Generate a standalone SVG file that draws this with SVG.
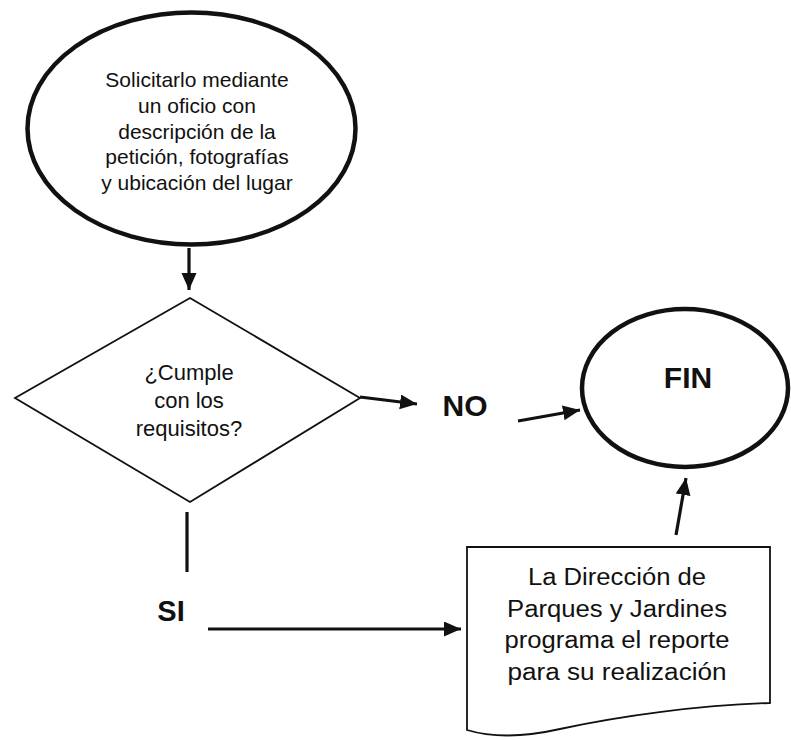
<svg xmlns="http://www.w3.org/2000/svg" width="791" height="740" viewBox="0 0 791 740">
<style>
  .txt { font-family: "Liberation Sans", Arial, sans-serif; fill: #111; text-anchor: middle; }
  .bold { font-weight: bold; }
  .thick { fill: #fff; stroke: #111; stroke-width: 4.5; }
  .thin { fill: #fff; stroke: #111; stroke-width: 1.8; }
  .conn { fill: none; stroke: #111; stroke-width: 3.2; }
</style>
<defs>
  <marker id="ah" markerUnits="userSpaceOnUse" markerWidth="18" markerHeight="16" refX="17" refY="7.5" orient="auto">
    <path d="M0,0 L17,7.5 L0,15 z" fill="#111"/>
  </marker>
</defs>
<rect width="791" height="740" fill="#fff"/>

<g id="inicio">
  <ellipse class="thick" cx="191.5" cy="128.5" rx="164" ry="116"/>
  <text class="txt" font-size="21" x="197" y="87">Solicitarlo mediante</text>
  <text class="txt" font-size="21" x="197" y="113">un oficio con</text>
  <text class="txt" font-size="21" x="197" y="139">descripción de la</text>
  <text class="txt" font-size="21" x="197" y="164">petición, fotografías</text>
  <text class="txt" font-size="21" x="197" y="190">y ubicación del lugar</text>
</g>

<g id="decision">
  <polygon class="thin" points="190,298 360,398 190,502 15,398"/>
  <text class="txt" font-size="22" x="189" y="380">¿Cumple</text>
  <text class="txt" font-size="22" x="189" y="408">con los</text>
  <text class="txt" font-size="22" x="189" y="436">requisitos?</text>
</g>

<g id="no">
  <text class="txt bold" font-size="30" x="465" y="416">NO</text>
</g>

<g id="si">
  <text class="txt bold" font-size="29" x="171" y="621">SI</text>
</g>

<g id="fin">
  <ellipse class="thick" cx="685" cy="388" rx="103" ry="79"/>
  <text class="txt bold" font-size="30" x="688" y="388">FIN</text>
</g>

<g id="documento">
  <path class="thin" d="M467,547 H770 V703 C700,705 620,716 560,729 C520,738 490,737 467,730 Z"/>
  <text class="txt" font-size="23" x="617" y="585" textLength="178" lengthAdjust="spacingAndGlyphs">La Dirección de</text>
  <text class="txt" font-size="23" x="617" y="617" textLength="220" lengthAdjust="spacingAndGlyphs">Parques y Jardines</text>
  <text class="txt" font-size="23" x="617" y="648" textLength="225" lengthAdjust="spacingAndGlyphs">programa el reporte</text>
  <text class="txt" font-size="23" x="617" y="680" textLength="219" lengthAdjust="spacingAndGlyphs">para su realización</text>
</g>

<g id="connectors">
  <line class="conn" x1="189" y1="248" x2="189" y2="290" marker-end="url(#ah)"/>
  <line class="conn" x1="360" y1="397" x2="417" y2="404" marker-end="url(#ah)"/>
  <line class="conn" x1="518" y1="421" x2="580" y2="410" marker-end="url(#ah)"/>
  <line class="conn" x1="187" y1="512" x2="187" y2="572"/>
  <line class="conn" x1="208" y1="629" x2="461" y2="629" marker-end="url(#ah)"/>
  <line class="conn" x1="676" y1="535" x2="686" y2="478" marker-end="url(#ah)"/>
</g>
</svg>
